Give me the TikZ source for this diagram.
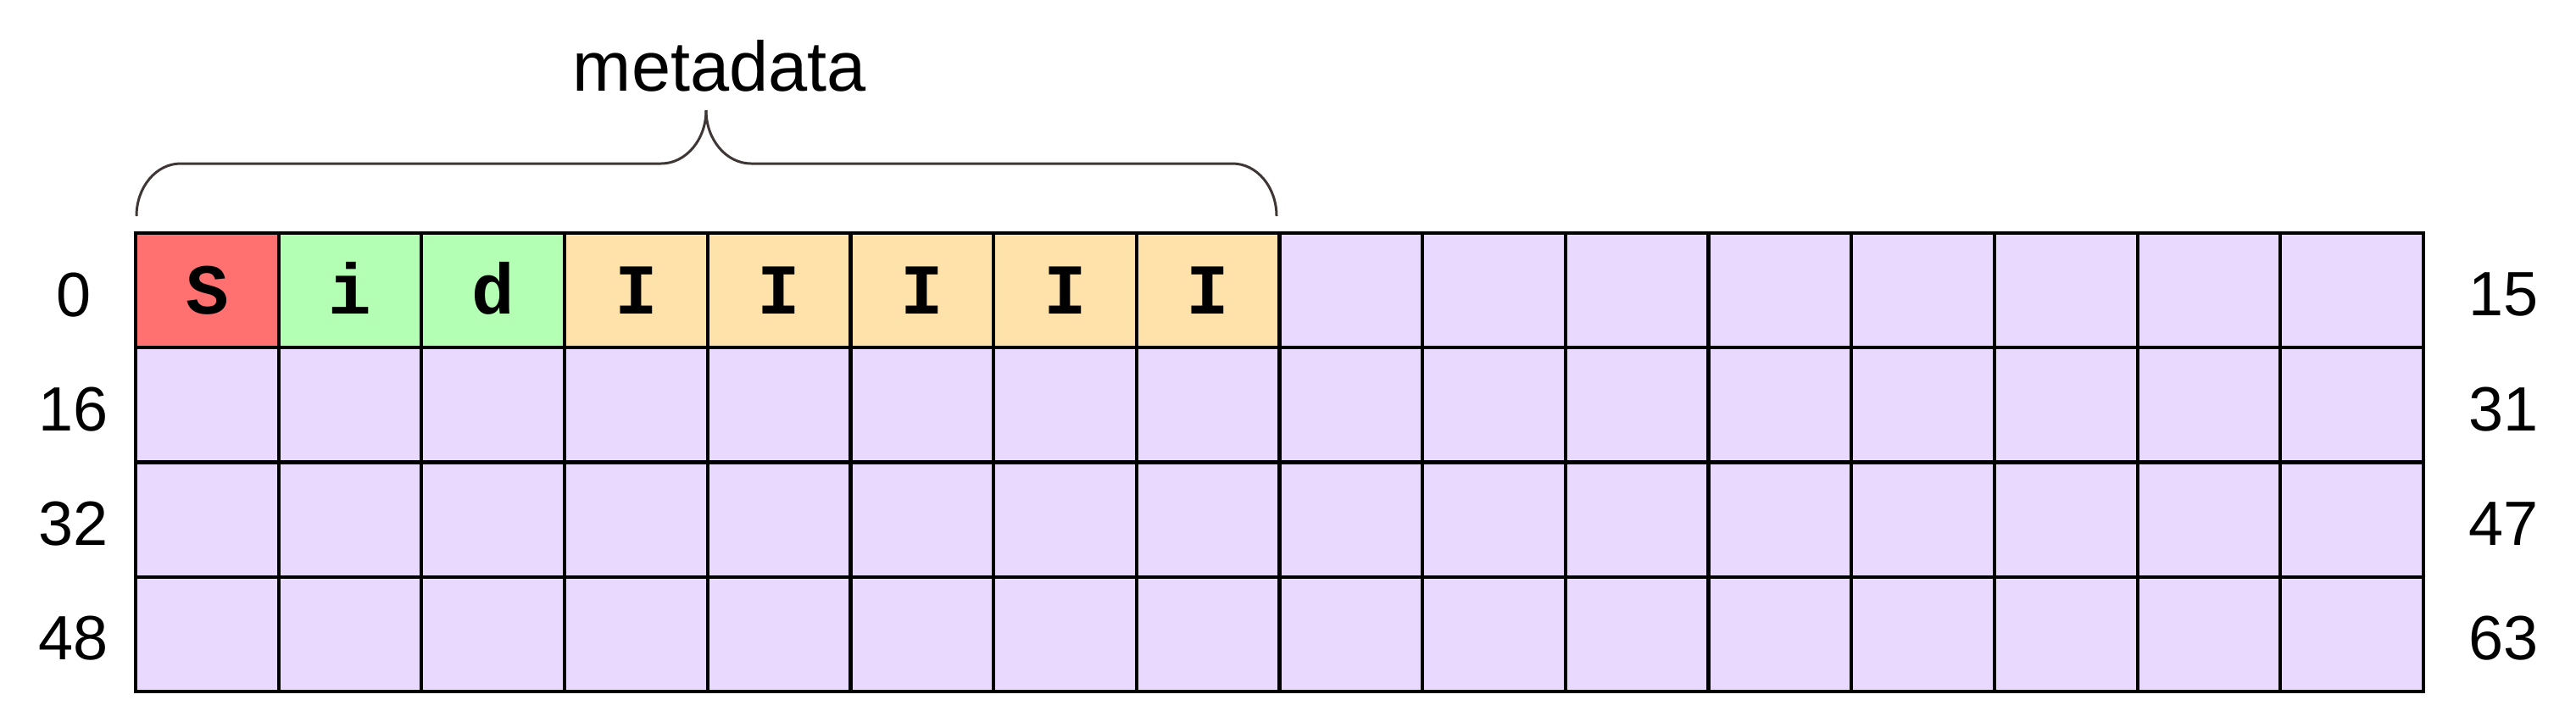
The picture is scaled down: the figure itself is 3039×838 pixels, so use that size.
\documentclass[tikz,border=0pt]{standalone}
\usepackage{fontspec}
\setmainfont{Liberation Sans}
\newfontfamily\celdafont{Liberation Mono}
\usepackage{xcolor}
\usetikzlibrary{positioning}

\definecolor{rojo}{HTML}{FF7070}
\definecolor{verde}{HTML}{B3FFB3}
\definecolor{naranja}{HTML}{FFE2A9}
\definecolor{lila}{HTML}{E9D9FF}
\definecolor{llavegris}{HTML}{3F3636}

\begin{document}
\begin{tikzpicture}[x=0.01cm, y=-0.01cm,
        celda/.style={draw=black, line width=1.2pt, fill=lila, inner sep=0pt, outer sep=0pt,
            minimum width=1.687cm, minimum height=1.353cm, text height=15.8pt, text depth=0pt,
            font=\celdafont\bfseries\fontsize{24}{24}\selectfont},
        indice/.style={font=\fontsize{21}{21}\selectfont, yshift=-0.05cm},
        llave/.style={draw=llavegris, line width=0.85pt}]
        \useasboundingbox (0,0) rectangle (3039,838);

        % Primera fila: metadatos
        \foreach \c/\col/\letra in {0/rojo/S,1/verde/i,2/verde/d,3/naranja/I,4/naranja/I,
                5/naranja/I,6/naranja/I,7/naranja/I,8/lila/,9/lila/,10/lila/,11/lila/,
                12/lila/,13/lila/,14/lila/,15/lila/}
            \node[celda, fill=\col] (c0-\c) at ({160+168.69*(\c+0.5)}, {275+135.3*0.5}) {\letra};

        % Resto de la memoria
        \foreach \f in {1,2,3}
            \foreach \c in {0,...,15}
                \node[celda] (c\f-\c) at ({160+168.69*(\c+0.5)}, {275+135.3*(\f+0.5)}) {};

        % Indices de cada fila
        \foreach \f in {0,...,3} {
            \pgfmathtruncatemacro{\ini}{16*\f}
            \pgfmathtruncatemacro{\fin}{16*\f+15}
            \node[indice, xshift=-0.73cm] (ini\f) at (c\f-0.west) {\ini};
            \node[indice, xshift=0.94cm] (fin\f) at (c\f-15.east) {\fin};
        }

        % Llave sobre los metadatos
        \coordinate (li) at (161,255);
        \coordinate (ld) at (1506,255);
        \coordinate (punta) at (833,130);
        \draw[llave] (li) .. controls (161,221) and (184,193) .. (213,193) -- (780,193)
            .. controls (809,193) and (833,165) .. (punta);
        \draw[llave] (punta) .. controls (833,165) and (857,193) .. (886,193) -- (1454,193)
            .. controls (1483,193) and (1506,221) .. (ld);
        \node[anchor=base, font=\fontsize{23.6}{23.6}\selectfont] (meta) at (849,107) {metadata};
    \end{tikzpicture}
\end{document}
